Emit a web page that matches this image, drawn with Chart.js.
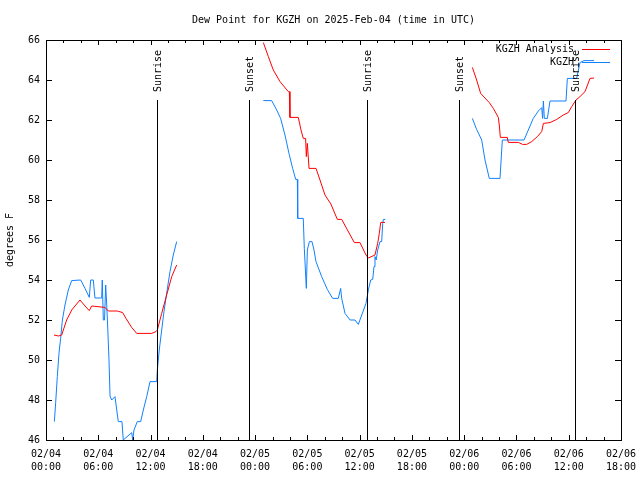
<!DOCTYPE html>
<html>
<head>
<meta charset="utf-8">
<title>Dew Point for KGZH</title>
<script src="https://cdn.jsdelivr.net/npm/chart.js@4.4.1/dist/chart.umd.min.js"></script>
<style>
  html, body { margin: 0; padding: 0; background: #fff; }
  #wrap { width: 640px; height: 480px; }
</style>
</head>
<body>
<div id="wrap"><canvas id="myChart" width="640" height="480"></canvas></div>
<script>
// hours since 02/04 00:00 UTC, null = gap between data runs
var analysisHours = [0.92, 1.42, 1.80, 2.37, 2.95, 3.90, 4.48, 4.97, 5.24, 6.77, 7.15, 8.18, 8.80, 9.18, 9.83, 10.41, 12.13, 12.63, 12.78, 13.28, 13.85, 14.43, 15.0,
    null,
    24.95, 25.52, 26.09, 26.86, 27.81, 27.93, 28.0, 28.96, 29.27, 29.53, 29.8, 29.88, 30.0, 30.19, 30.99, 31.45, 32.02, 32.7, 33.44, 33.94, 35.39, 36.04, 36.73, 37.0, 37.76, 38.07, 38.26, 38.42, 38.91,
    null,
    48.94, 49.43, 49.89, 50.88, 51.35, 51.92, 52.03, 52.15, 52.95, 53.06, 54.21, 54.71, 55.17, 55.75, 56.4, 56.9, 57.09, 57.85, 58.62, 59.38, 59.95, 60.34, 60.84, 61.29, 61.87, 62.44, 62.9];
var analysisDewpt = [51.25, 51.2, 51.25, 52.0, 52.5, 53.0, 52.7, 52.47, 52.7, 52.63, 52.45, 52.45, 52.37, 52.08, 51.63, 51.33, 51.33, 51.42, 51.5, 52.33, 53.25, 54.17, 54.75,
    null,
    65.87, 65.17, 64.5, 63.92, 63.42, 63.42, 62.13, 62.13, 61.5, 61.08, 61.08, 60.17, 60.83, 59.58, 59.58, 59.0, 58.25, 57.8, 57.03, 57.03, 55.87, 55.87, 55.25, 55.1, 55.25, 55.83, 56.33, 56.88, 56.88,
    null,
    64.63, 64.0, 63.33, 62.87, 62.58, 62.13, 61.75, 61.13, 61.13, 60.88, 60.88, 60.78, 60.78, 60.92, 61.17, 61.42, 61.83, 61.87, 62.03, 62.25, 62.37, 62.67, 63.0, 63.17, 63.42, 64.08, 64.1];

var obsHours = [0.96, 1.11, 1.30, 1.49, 1.68, 1.88, 2.18, 2.56, 2.95, 3.98, 4.48, 4.97, 5.13, 5.43, 5.62, 6.39, 6.46, 6.58, 6.72, 6.85, 6.97, 7.05, 7.23, 7.35, 7.54, 7.92, 8.12, 8.3, 8.49, 8.72, 8.87, 9.84, 9.95, 10.1, 10.48, 10.87, 11.17, 11.56, 11.94, 12.71, 12.78, 13.0, 13.28, 13.54, 13.85, 14.23, 14.61, 15.0,
    null,
    24.95, 25.9, 26.48, 26.93, 27.43, 27.89, 28.31, 28.66, 28.85, 28.89, 29.53, 29.65, 29.88, 30.0, 30.23, 30.53, 30.76, 30.99, 31.64, 32.29, 32.9, 33.55, 33.82, 33.94, 34.32, 34.9, 35.47, 35.85, 36.24, 36.73, 37.0, 37.27, 37.5, 37.65, 37.76, 37.9, 38.07, 38.34, 38.53, 38.65, 38.72, 38.95,
    null,
    48.94, 49.43, 50.01, 50.39, 50.88, 52.11, 52.38, 54.87, 55.36, 55.93, 56.51, 56.9, 57.0, 57.09, 57.2, 57.55, 57.85, 59.69, 59.84, 60.91, 61.29, 61.75, 62.9];
var obsDewpt = [46.92, 47.87, 49.17, 50.33, 51.08, 52.0, 52.75, 53.5, 53.97, 54.0, 53.58, 53.13, 54.0, 54.0, 53.1, 53.1, 54.0, 52.0, 52.0, 53.75, 52.75, 52.0, 50.0, 48.2, 48.0, 48.17, 47.5, 46.92, 46.92, 46.92, 46.0, 46.37, 46.0, 46.5, 46.92, 46.92, 47.5, 48.17, 48.92, 48.92, 49.5, 50.5, 51.5, 52.42, 53.33, 54.42, 55.25, 55.92,
    null,
    62.97, 62.97, 62.5, 62.08, 61.25, 60.33, 59.58, 59.03, 59.03, 57.08, 57.08, 55.58, 53.58, 55.5, 55.92, 55.92, 55.5, 54.92, 54.17, 53.53, 53.08, 53.08, 53.58, 53.08, 52.33, 52.0, 52.0, 51.78, 52.25, 52.83, 53.5, 54.0, 54.03, 54.67, 55.17, 55.0, 55.5, 55.92, 55.92, 56.83, 57.03, 57.03,
    null,
    62.08, 61.53, 61.0, 60.0, 59.08, 59.08, 61.0, 61.0, 61.5, 62.08, 62.45, 62.62, 62.08, 62.95, 62.08, 62.08, 62.95, 62.95, 64.08, 64.08, 64.87, 64.97, 64.97];

// sunrise / sunset markers (hours since 02/04 00:00)
var sunHours = [12.74, 23.34, 36.8, 47.45, 60.76];
var sunLabels = ["Sunrise", "Sunset", "Sunrise", "Sunset", "Sunrise"];

var yTicks = [46, 48, 50, 52, 54, 56, 58, 60, 62, 64, 66];
var dayLabels = ["02/04", "02/05", "02/06"];

var titleText = "Dew Point for KGZH on 2025-Feb-04 (time in UTC)";
var yAxisTitle = "degrees F";

function toPoints(hours, vals) {
    var pts = [];
    for (var i = 0; i < hours.length; i++) {
        pts.push({x: hours[i] === null ? NaN : hours[i], y: vals[i]});
    }
    return pts;
}

var FONT = "10px 'DejaVu Sans Mono', monospace";
Chart.defaults.font.family = "'DejaVu Sans Mono', monospace";
Chart.defaults.font.size = 10;
Chart.defaults.color = "#000";

// frame, inward ticks, sun lines, title, legend - gnuplot look
var decor = {
    id: 'decor',
    afterDatasetsDraw: function(chart) {
        var ctx = chart.ctx;
        var a = chart.chartArea;
        var xs = chart.scales.x, ys = chart.scales.y;
        ctx.save();
        ctx.strokeStyle = "#000";
        ctx.lineWidth = 1;

        // sun lines + labels
        ctx.font = FONT;
        ctx.fillStyle = "#000";
        for (var i = 0; i < sunHours.length; i++) {
            var px = Math.round(xs.getPixelForValue(sunHours[i])) + 0.5;
            ctx.beginPath();
            ctx.moveTo(px, a.bottom);
            ctx.lineTo(px, ys.getPixelForValue(63));
            ctx.stroke();
            ctx.save();
            ctx.translate(px + 1, ys.getPixelForValue(63) - 8);
            ctx.rotate(-Math.PI / 2);
            ctx.textAlign = "left";
            ctx.textBaseline = "middle";
            ctx.fillText(sunLabels[i], 0, 0);
            ctx.restore();
        }

        // border
        ctx.strokeRect(a.left + 0.5, a.top + 0.5, a.right - a.left, a.bottom - a.top);

        // x ticks: major every 6 h, minor every 2 h
        for (var h = 0; h <= 66; h += 2) {
            var x = Math.round(xs.getPixelForValue(h)) + 0.5;
            var len = (h % 6 === 0) ? 5 : 3;
            ctx.beginPath();
            ctx.moveTo(x, a.bottom); ctx.lineTo(x, a.bottom - len);
            ctx.moveTo(x, a.top); ctx.lineTo(x, a.top + len);
            ctx.stroke();
        }
        // y ticks
        for (var j = 0; j < yTicks.length; j++) {
            var y = Math.round(ys.getPixelForValue(yTicks[j])) + 0.5;
            ctx.beginPath();
            ctx.moveTo(a.left, y); ctx.lineTo(a.left + 6, y);
            ctx.moveTo(a.right, y); ctx.lineTo(a.right - 6, y);
            ctx.stroke();
        }

        // title
        ctx.textAlign = "center";
        ctx.textBaseline = "middle";
        ctx.fillText(titleText, (a.left + a.right) / 2, 20);

        // y axis title
        ctx.save();
        ctx.translate(10, (a.top + a.bottom) / 2);
        ctx.rotate(-Math.PI / 2);
        ctx.fillText(yAxisTitle, 0, 0);
        ctx.restore();

        // legend (text right aligned, sample line on the right)
        var ds = chart.data.datasets;
        for (var k = 0; k < ds.length; k++) {
            var ly = 49.5 + k * 13;
            ctx.textAlign = "right";
            ctx.fillText(ds[k].label, 574, ly);
            ctx.strokeStyle = ds[k].borderColor;
            ctx.beginPath();
            ctx.moveTo(582, ly); ctx.lineTo(610, ly);
            ctx.stroke();
        }
        ctx.restore();
    }
};

var ctx = document.getElementById("myChart").getContext("2d");

var myChart = new Chart(ctx, {
    type: 'line',
    data: {
        datasets: [
            {
            label: "KGZH Analysis",
            borderColor: "rgb(255, 0, 0)",
            borderWidth: 1,
            pointRadius: 0,
            data: toPoints(analysisHours, analysisDewpt)
            },
            {
            label: "KGZH",
            borderColor: "rgb(16, 128, 255)",
            borderWidth: 1,
            pointRadius: 0,
            data: toPoints(obsHours, obsDewpt)
            }]
    },
    options: {
        responsive: false,
        animation: false,
        spanGaps: false,
        layout: { padding: { top: 40, right: 19, left: 0, bottom: 0 } },
        plugins: {
            legend: { display: false },
            title: { display: false },
            tooltip: { enabled: false }
        },
        scales: {
            x: {
                type: 'linear',
                min: 0,
                max: 66,
                border: { display: false },
                grid: { display: false, drawTicks: false },
                afterFit: function(s) {
                    s.height = 40;
                    s.paddingLeft = 0;
                    s.paddingRight = 0;
                },
                afterBuildTicks: function(s) {
                    var t = [];
                    for (var h = 0; h <= 66; h += 6) t.push({value: h});
                    s.ticks = t;
                },
                ticks: {
                    autoSkip: false,
                    maxRotation: 0,
                    padding: 8,
                    font: { lineHeight: '13px' },
                    callback: function(v) {
                        var hr = v % 24;
                        return [dayLabels[Math.floor(v / 24)], (hr < 10 ? "0" : "") + hr + ":00"];
                    }
                }
            },
            y: {
                min: 46,
                max: 66,
                border: { display: false },
                grid: { display: false, drawTicks: false },
                afterFit: function(s) {
                    s.width = 46;
                    s.paddingTop = 0;
                    s.paddingBottom = 0;
                },
                ticks: { stepSize: 2, padding: 6 }
            }
        }
    },
    plugins: [decor]
});
</script>
</body>
</html>
